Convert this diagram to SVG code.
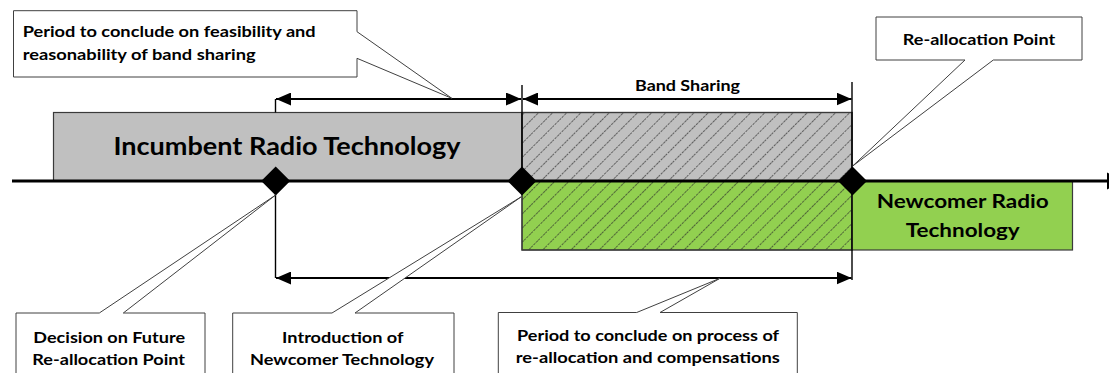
<svg xmlns="http://www.w3.org/2000/svg" width="1109" height="373" viewBox="0 0 1109 373">
  <style>
    .lbl { font-family: Lato, "Liberation Sans", sans-serif; font-weight: 700; fill: #000; }
    .sm { font-size: 15.8px; }
    .md { font-size: 18.5px; }
    .lg { font-size: 25.5px; }
    .callout { fill: #fff; stroke: #404040; stroke-width: 1; }
    .box { stroke: #3a3a3a; stroke-width: 1.2; }
    .dim { stroke: #000; stroke-width: 2; fill: none; }
    .guide { stroke: #000; stroke-width: 1.4; fill: none; }
    .diamond { fill: #000; }
  </style>
  <defs>
    <marker id="arrow" viewBox="0 0 15 13" refX="15" refY="6.5" markerWidth="15" markerHeight="13" markerUnits="userSpaceOnUse" orient="auto-start-reverse">
      <path d="M0,0 L15,6.5 L0,13 Z" fill="#000"/>
    </marker>
    <pattern id="hatch" width="10" height="10" patternUnits="userSpaceOnUse" patternTransform="rotate(45)">
      <line x1="0" y1="0" x2="0" y2="10" stroke="#2a2a2a" stroke-width="1.3" stroke-dasharray="2.5 1"/>
    </pattern>
  </defs>

  <!-- incumbent technology band -->
  <g id="incumbent">
    <rect class="box" x="53.5" y="112.5" width="468.5" height="68.5" fill="#c0c0c0"/>
    <text class="lbl lg" x="287" y="155" text-anchor="middle" textLength="347" lengthAdjust="spacingAndGlyphs">Incumbent Radio Technology</text>
  </g>

  <!-- shared period: incumbent side -->
  <g id="sharing-incumbent">
    <rect class="box" x="522" y="112.5" width="330" height="68.5" fill="#c0c0c0"/>
    <rect x="522" y="112.5" width="330" height="68.5" fill="url(#hatch)"/>
    <rect x="522" y="112.5" width="330" height="68.5" fill="none" stroke="#3a3a3a" stroke-width="1.2"/>
  </g>

  <!-- shared period: newcomer side -->
  <g id="sharing-newcomer">
    <rect class="box" x="522" y="181" width="330" height="69" fill="#92d050"/>
    <rect x="522" y="181" width="330" height="69" fill="url(#hatch)"/>
    <rect x="522" y="181" width="330" height="69" fill="none" stroke="#3a3a3a" stroke-width="1.2"/>
  </g>

  <!-- newcomer technology band -->
  <g id="newcomer">
    <rect class="box" x="852" y="181" width="220.5" height="69" fill="#92d050"/>
    <text class="lbl md" x="962.7" y="208" text-anchor="middle" textLength="172" lengthAdjust="spacingAndGlyphs">Newcomer Radio</text>
    <text class="lbl md" x="962.7" y="236.7" text-anchor="middle" textLength="114" lengthAdjust="spacingAndGlyphs">Technology</text>
  </g>

  <!-- time axis, dimension lines and guides -->
  <g id="connectors">
    <line x1="12" y1="181" x2="1108" y2="181" stroke="#000" stroke-width="3"/>
    <path d="M1107,172.5 L1125,181 L1107,189.5 Z" fill="#000"/>

    <line class="guide" x1="275.5" y1="99" x2="275.5" y2="112.5"/>
    <line class="guide" x1="275.5" y1="181" x2="275.5" y2="278"/>
    <line class="guide" x1="522" y1="85" x2="522" y2="181"/>
    <line class="guide" x1="852" y1="82" x2="852" y2="280"/>

    <line class="dim" x1="276" y1="99" x2="521" y2="99" marker-start="url(#arrow)" marker-end="url(#arrow)"/>
    <line class="dim" x1="523" y1="99" x2="851.5" y2="99" marker-start="url(#arrow)" marker-end="url(#arrow)"/>
    <line class="dim" x1="276" y1="278" x2="851.5" y2="278" marker-start="url(#arrow)" marker-end="url(#arrow)"/>
  </g>

  <g id="band-sharing-label">
    <text class="lbl sm" x="687.5" y="90.7" text-anchor="middle" textLength="105" lengthAdjust="spacingAndGlyphs">Band Sharing</text>
  </g>

  <!-- milestones -->
  <g id="milestone-decision">
    <path class="diamond" d="M275.7,166.5 L290.2,181 L275.7,195.5 L261.2,181 Z"/>
  </g>
  <g id="milestone-introduction">
    <path class="diamond" d="M522,166.5 L536.5,181 L522,195.5 L507.5,181 Z"/>
  </g>
  <g id="milestone-reallocation">
    <path class="diamond" d="M852.5,166.5 L867,181 L852.5,195.5 L838,181 Z"/>
  </g>

  <!-- callouts -->
  <g id="callout-feasibility">
    <path class="callout" d="M13.5,10.7 H357 V31.7 L451.8,98.3 L357,58.3 V77 H13.5 Z"/>
    <text class="lbl sm" x="22.7" y="37.3" textLength="293" lengthAdjust="spacingAndGlyphs">Period to conclude on feasibility and</text>
    <text class="lbl sm" x="22.7" y="60" textLength="233" lengthAdjust="spacingAndGlyphs">reasonability of band sharing</text>
  </g>

  <g id="callout-reallocation-point">
    <path class="callout" d="M876,17 H1082 V60 H993.3 L852.7,166 L965,60 H876 Z"/>
    <text class="lbl sm" x="979" y="45" text-anchor="middle" textLength="152.3" lengthAdjust="spacingAndGlyphs">Re-allocation Point</text>
  </g>

  <g id="callout-decision">
    <path class="callout" d="M16,385 V313 H99.3 L275.7,195 L123.3,313 H205 V385 Z"/>
    <text class="lbl sm" x="109.2" y="343" text-anchor="middle" textLength="151.7" lengthAdjust="spacingAndGlyphs">Decision on Future</text>
    <text class="lbl sm" x="108.7" y="365" text-anchor="middle" textLength="152.7" lengthAdjust="spacingAndGlyphs">Re-allocation Point</text>
  </g>

  <g id="callout-introduction">
    <path class="callout" d="M232.7,385 V313 H332 L521.4,196.7 L355,313 H454 V385 Z"/>
    <text class="lbl sm" x="342.8" y="343" text-anchor="middle" textLength="121.4" lengthAdjust="spacingAndGlyphs">Introduction of</text>
    <text class="lbl sm" x="342" y="365" text-anchor="middle" textLength="184" lengthAdjust="spacingAndGlyphs">Newcomer Technology</text>
  </g>

  <g id="callout-reallocation-process">
    <path class="callout" d="M498.3,385 V312.5 H636.7 L720,278.3 L660,312.5 H797.3 V385 Z"/>
    <text class="lbl sm" x="648" y="341" text-anchor="middle" textLength="262" lengthAdjust="spacingAndGlyphs">Period to conclude on process of</text>
    <text class="lbl sm" x="647.8" y="363" text-anchor="middle" textLength="264" lengthAdjust="spacingAndGlyphs">re-allocation and compensations</text>
  </g>
</svg>
